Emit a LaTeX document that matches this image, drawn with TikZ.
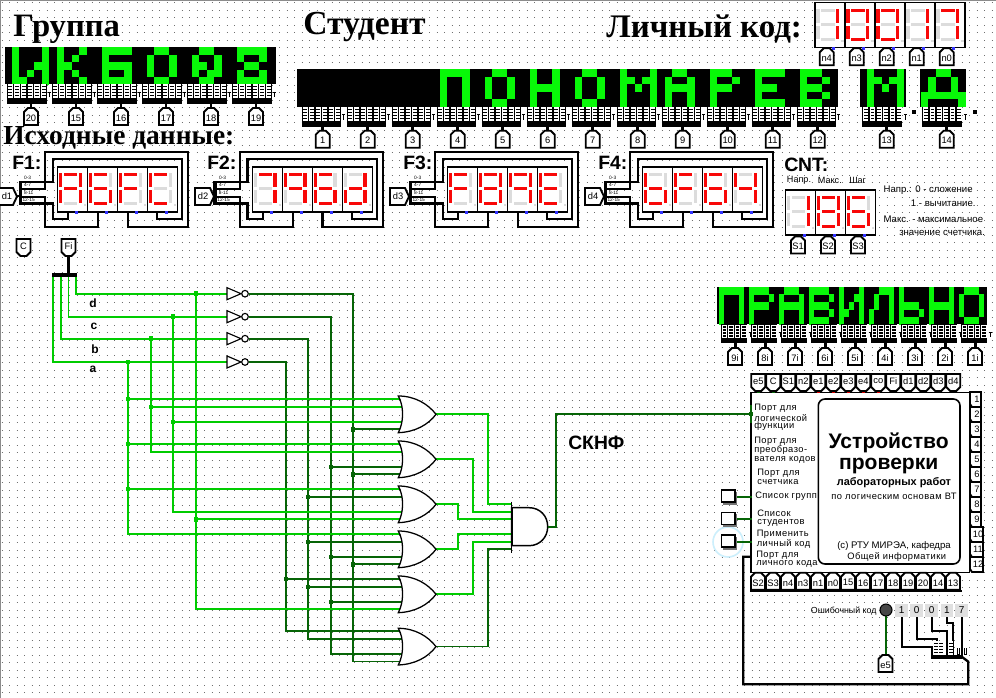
\documentclass[tikz,border=0pt]{standalone}
\usepackage{fontspec}
\setmainfont{Liberation Serif}
\setsansfont{Liberation Sans}
\definecolor{segon}{HTML}{F80808}
\definecolor{segoff}{HTML}{DCDCDC}
\definecolor{ledon}{HTML}{08F808}
\definecolor{lg}{HTML}{00CC00}
\definecolor{dg}{HTML}{066406}
\definecolor{griddot}{HTML}{707070}
\newcommand\fpx[1]{\fontsize{#1}{#1}\selectfont}
\newcommand\lsp{\addfontfeature{LetterSpace=5}}
\tikzset{
  x=0.75pt,y=-0.75pt,
  fw/.style={line width=1.75pt,line join=miter},
  pinbox/.style={draw=black,fill=white,line width=1.4pt},
  pinlab/.style={inner sep=0pt,font=\sffamily\fpx{7}},
  big/.style={inner sep=0pt,anchor=west,font=\rmfamily\bfseries},
  lbl/.style={inner sep=0pt,anchor=west,font=\sffamily\fpx{7.2}},
  mlbl/.style={inner sep=0pt,anchor=west,align=left,font=\sffamily\fontsize{7}{6.3}\selectfont\lsp},
  clbl/.style={inner sep=0pt,font=\sffamily\fpx{7.2}},
  fn/.style={inner sep=0pt,anchor=west,font=\sffamily\bfseries\fpx{14.5}},
  lw/.style={draw=lg,line width=1.25pt},
  dw/.style={draw=dg,line width=1.25pt},
}
% seven-segment digit
\newcommand\seg[5]{\ifnum#1=1 \def\sc{segon}\else\def\sc{segoff}\fi\fill[\sc] ({#2},{#3}) rectangle ({#4},{#5});}
\newcommand\sevenseg[9]{%
  \def\sx{#1}\def\sy{#2}%
  \fill[white] ({\sx},{\sy}) rectangle ({\sx+30},{\sy+45});
  \seg{#3}{\sx+6}{\sy+6}{\sx+19.5}{\sy+9}
  \seg{#4}{\sx+20.8}{\sy+6}{\sx+24.1}{\sy+20}
  \seg{#5}{\sx+20.8}{\sy+23}{\sx+24.1}{\sy+36}
  \seg{#6}{\sx+6}{\sy+35}{\sx+19.5}{\sy+38}
  \seg{#7}{\sx+1.4}{\sy+23}{\sx+4.7}{\sy+36}
  \seg{#8}{\sx+1.4}{\sy+6}{\sx+4.7}{\sy+20}
  \seg{#9}{\sx+6}{\sy+20}{\sx+19.5}{\sy+23}
  \seg{0}{\sx+26}{\sy+37}{\sx+28.5}{\sy+39.5}
  \draw[line width=1.1pt] ({\sx},{\sy}) rectangle ({\sx+30},{\sy+45});
  \fill[blue!80!white] ({\sx+17},{\sy+44}) rectangle ({\sx+20},{\sy+47});
}
% function block frame
\newcommand\fnframe[2]{%
  \coordinate (#1-t1) at ({#2-35.7},181.7);
  \coordinate (#1-t2) at ({#2-35.7},188.7);
  \coordinate (#1-t3) at ({#2-35.7},196.7);
  \coordinate (#1-t4) at ({#2-35.7},203.5);
  \draw[fw] (#1-t1) -- ({#2-5},181.7) -- ({#2-5},159.3) -- ({#2+124.3},159.3) -- ({#2+124.3},219.3) -- ({#2+99.5},219.3) -- ({#2+99.5},212);
  \draw[fw] (#1-t2) -- ({#2-12.5},188.7) -- ({#2-12.5},152.3) -- ({#2+130.3},152.3) -- ({#2+130.3},226.7) -- ({#2+70},226.7) -- ({#2+70},212);
  \draw[fw] (#1-t3) -- ({#2-12.5},196.7) -- ({#2-12.5},226.7) -- ({#2+40.5},226.7) -- ({#2+40.5},212);
  \draw[fw] (#1-t4) -- ({#2-5},203.5) -- ({#2-5},219.3) -- ({#2+10.6},219.3) -- ({#2+10.6},212);
  \fill ({#2-39.2},181) rectangle ({#2-35.7},205);
  \fill[white] ({#2-35},175.5) rectangle ({#2-22},180.6);
  \node[inner sep=0pt,font=\sffamily\fpx{3.6}] (#1-l1) at ({#2-30},178.2) {0-3};
  \node[inner sep=0pt,font=\sffamily\fpx{3.6},fill=white] (#1-l2) at ({#2-30},185.2) {4-7};
  \node[inner sep=0pt,font=\sffamily\fpx{3.6},fill=white] (#1-l3) at ({#2-29},192.7) {8-11};
  \node[inner sep=0pt,font=\sffamily\fpx{3.6},fill=white] (#1-l4) at ({#2-29},200.2) {12-15};
}
\newcommand\pinR[4]{%
  \draw[pinbox] ({#2},188) -- ({#2+15},188) -- ({#2+19},196.5) -- ({#2+15},205) -- ({#2},205) -- cycle;
  \fill ({#2+19},195.5) rectangle ({#2+21},197.5);
  \node[pinlab] (#1) at ({#2+8},196.5) {#4};
}
\newcommand\pinU[4]{%
  \draw[pinbox] ({#2-7},{#3+17}) -- ({#2-7},{#3+4}) -- ({#2-3},{#3}) -- ({#2+3},{#3}) -- ({#2+7},{#3+4}) -- ({#2+7},{#3+17}) -- cycle;
  \node[pinlab] (#1) at ({#2},{#3+10}) {#4};
}
\newcommand\pinD[4]{%
  \draw[pinbox] ({#2-7},{#3}) -- ({#2-7},{#3+13}) -- ({#2-3},{#3+17}) -- ({#2+3},{#3+17}) -- ({#2+7},{#3+13}) -- ({#2+7},{#3}) -- cycle;
  \node[pinlab] (#1) at ({#2},{#3+7.5}) {#4};
}
\newcommand\pinL[4]{%
  \draw[pinbox] ({#2},{#3}) -- ({#2+#4-2},{#3}) -- ({#2+#4-2},{#3+15}) -- ({#2+2},{#3+15}) -- ({#2},{#3+12}) -- cycle;
}
% bus block: x, top, width, columns, total height
\newcommand\busblk[5]{%
  \fill ({#1},{#2}) rectangle ({#1+#3},{#2+#5});
  \pgfmathsetmacro\cw{#3/#4}
  \foreach \k in {1,...,#4}{%
    \pgfmathsetmacro\bx{#1+(\k-1)*\cw+0.9}
    \fill[white] ({\bx},{#2+.5}) rectangle ({\bx+\cw-1.4},{#2+#5-5.5});
    \foreach \j in {2,5,8,11}{%
      \fill ({\bx+0.7},{#2+\j}) rectangle ({\bx+\cw-2.1},{#2+\j+1.2});
    }
  }
  \draw[line width=.6pt] ({#1+#3+1.5},{#2+8}) -- ({#1+#3+4.5},{#2+8}) ({#1+#3+3},{#2+8}) -- ({#1+#3+3},{#2+13});
}
% LED matrix
\newcount\lcol
\def\ledrow#1{\ifx#1;\let\lnext\relax\else\ifx#1X\fill[ledon] ({\lx+\the\lcol*\lw},{\ly+\ri*\lh}) rectangle ++({\lw+.2},{\lh+.2});\fi\advance\lcol by 1 \let\lnext\ledrow\fi\lnext}
\newcommand\ledglyph[5]{%
  \def\lx{#1}\def\ly{#2}\def\lw{#3}\def\lh{#4}%
  \foreach \rw [count=\ri from 0] in #5 {\lcol=0 \expandafter\ledrow\rw;}
}
\def\gI{XoooX,XoooX,XooXX,XoXoX,XXooX}
\def\gK{oXooX,oXoXo,oXXoo,oXoXo,oXooX}
\def\gB{oXXXX,oXooo,oXXXX,oXooX,oXXXX}
\def\gO{ooXXo,oXooX,oXooX,oXooX,ooXXo}
\def\gQ{ooXXo,oXooX,oXXoX,oXoXX,ooXXo}
\def\gT{oXXXX,oXooX,ooXXo,oXooX,oXXXX}
\def\gP{XXXX,XooX,XooX,XooX,XooX}
\def\gS{oXXo,XooX,XooX,XooX,oXXo}
\def\gN{XooX,XooX,XXXX,XooX,XooX}
\def\gM{XoooX,XXoXX,XoXoX,XoooX,XoooX}
\def\gA{oXXo,XooX,XXXX,XooX,XooX}
\def\gR{XXXo,XooX,XXXo,Xooo,Xooo}
\def\gE{XXXX,Xooo,XXXo,Xooo,XXXX}
\def\gV{XXXo,XooX,XXXo,XooX,XXXo}
\def\gD{ooXXoo,oXooXo,oXooXo,XXXXXX,XooooX}
\def\hP{XXXXX,XoooX,XoooX,XoooX,XoooX}
\def\hR{XXXXo,XoooX,XXXXo,Xoooo,Xoooo}
\def\hA{oXXXo,XoooX,XXXXX,XoooX,XoooX}
\def\hV{XXXXo,XoooX,XXXXo,XoooX,XXXXo}
\def\hI{XoooX,XooXX,XoXoX,XXooX,XoooX}
\def\hL{ooXXX,oXooX,oXooX,XoooX,XoooX}
\def\hS{Xoooo,Xoooo,XXXXo,XoooX,XXXXo}
\def\hN{XoooX,XoooX,XXXXX,XoooX,XoooX}
\def\hO{oXXXo,XoooX,XoooX,XoooX,oXXXo}
% OR gate
\newcommand\orgate[2]{%
  \coordinate (#1-1) at (402,{#2+3});
  \coordinate (#1-2) at (402,{#2+11});
  \coordinate (#1-3) at (402,{#2+26});
  \coordinate (#1-4) at (402,{#2+33.3});
  \coordinate (#1-o) at (436,{#2+18.3});
}
\newcommand\orshape[2]{%
  \draw[fill=white,line width=.95pt] (398.3,{#2}) .. controls (415,{#2}) and (428,{#2+8}) .. (436,{#2+18.3}) .. controls (428,{#2+29}) and (415,{#2+36}) .. (398.3,{#2+36.7}) .. controls (404,{#2+26}) and (404,{#2+10}) .. cycle;
}
\newcommand\jd[2]{\fill[#1] ($#2$) ++(-2.4,-2.4) rectangle ++(4.8,4.8);}
\newcommand\inv[3]{%
  \draw[fill=white,line width=.85pt] (227,{#3-6}) -- (241,{#3}) -- (227,{#3+6}) -- cycle;
  \draw[fill=white,line width=.85pt] (245,{#3}) circle[radius=3.3];
}
\usetikzlibrary{calc}
\begin{document}
\begin{tikzpicture}
\useasboundingbox (0,0) rectangle (996,698);
\fill[white] (0,0) rectangle (996,698);
% dotted grid
\foreach \gy in {2.5,10,...,698}{\draw[griddot,line width=.675pt,dash pattern=on .675pt off 4.95pt] (1.5,\gy) -- (996,\gy);}
\fill[black!45] (0,0) rectangle (996,1.4);
\fill[black!45] (0,0) rectangle (1.4,698);
% headings
\node[big,font=\rmfamily\bfseries\fpx{24.5}] (hGroup) at (13,29) {Группа};
\node[big,font=\rmfamily\bfseries\fpx{25.2}] (hStud) at (303,27) {Студент};
\node[big,font=\rmfamily\bfseries\fpx{24.7}] (hCode) at (606,29) {Личный код:};
\node[big,font=\rmfamily\bfseries\fpx{20.6}] (hSrc) at (3,138) {Исходные данные:};
% group display
\fill (5,47.3) rectangle (276,84.5);
\ledglyph{11.7}{47.3}{7.5}{7.44}{\gI}
\foreach \g [count=\i from 1] in {\gK,\gB,\gO,\gQ,\gT}{\pgfmathsetmacro\gxx{4.2+45*\i}\expandafter\let\expandafter\gcur\g\ledglyph{\gxx}{47.3}{7.5}{7.44}{\gcur}}
\foreach \l [count=\i from 0] in {20,15,16,17,18,19}{%
  \pgfmathsetmacro\bb{6.7+45*\i}
  \busblk{\bb}{84}{40}{6}{20}
  \fill ({\bb+22.8},104) rectangle ({\bb+25.6},109);
  \pinU{g\l}{31+45*\i}{108}{\l}
}
% student display
\fill (297,69.3) rectangle (838,106.7);
\fill (860,69.3) rectangle (906,106.7);
\fill (920,69.3) rectangle (966,106.7);
\foreach \g [count=\i from 3] in {\gP,\gS,\gN,\gS,\gM,\gA,\gR,\gE,\gV}{\pgfmathsetmacro\gxx{304.5+45*\i}\expandafter\let\expandafter\gcur\g\ledglyph{\gxx}{69.3}{7.5}{7.48}{\gcur}}
\ledglyph{866.7}{69.3}{7.5}{7.48}{\gM}
\ledglyph{920.5}{69.3}{7.5}{7.48}{\gD}
\fill (912,110) rectangle (916,114);
\fill (973,110) rectangle (977,114);
\foreach \l [count=\i from 0] in {1,2,3,4,5,6,7,8,9,10,11,12}{%
  \pgfmathsetmacro\bb{301.7+45*\i}
  \busblk{\bb}{106.7}{39}{6}{20.3}
  \fill ({\bb+19.5},127) rectangle ({\bb+22.3},132);
  \pinU{s\l}{322.7+45*\i}{130.7}{\l}
}
\busblk{862.3}{106.7}{40}{6}{20.3}
\fill (885.3,127) rectangle (888.1,132);
\pinU{s13}{886.7}{130.7}{13}
\busblk{922.3}{106.7}{40}{6}{20.3}
\fill (945.3,127) rectangle (948.1,132);
\pinU{s14}{946.7}{130.7}{14}
% personal code
\sevenseg{815}{2.7}0110000
\sevenseg{845}{2.7}1111110
\sevenseg{875}{2.7}1111110
\sevenseg{905}{2.7}0110000
\sevenseg{935}{2.7}1110000
\foreach \l [count=\i from 0] in {n4,n3,n2,n1,n0}{\pinU{c\l}{826.7+30*\i}{48.3}{\l}}
% function displays
\node[fn] (tF1) at (12,163) {F1:};
\node[fn] (tF2) at (207,163) {F2:};
\node[fn] (tF3) at (403,163) {F3:};
\node[fn] (tF4) at (598,163) {F4:};
\node[fn] (tCNT) at (784,165) {CNT:};
\fnframe{f1}{57.7}
\sevenseg{57.7}{167}1110111
\sevenseg{87.7}{167}1011111
\sevenseg{117.7}{167}1000111
\sevenseg{147.7}{167}1001110
\pinR{d1}{-2}{0}{}
\node[pinlab] (d1t) at (7,196.5) {d1};
\fnframe{f2}{252.6}
\sevenseg{252.6}{167}1110000
\sevenseg{282.6}{167}1110011
\sevenseg{312.6}{167}1011111
\sevenseg{342.6}{167}0111101
\pinR{d2a}{195}{0}{d2}
\fnframe{f3}{447.7}
\sevenseg{447.7}{167}1000111
\sevenseg{477.7}{167}1111111
\sevenseg{507.7}{167}1110011
\sevenseg{537.7}{167}1001111
\pinR{d3a}{390}{0}{d3}
\fnframe{f4}{642.7}
\sevenseg{642.7}{167}0011111
\sevenseg{672.7}{167}1000111
\sevenseg{702.7}{167}1011111
\sevenseg{732.7}{167}0110011
\pinR{d4a}{585}{0}{d4}
% counter
\sevenseg{785.7}{190}0110000
\sevenseg{815.7}{190}1111111
\sevenseg{845.7}{190}1011111
\pinU{pS1}{798}{236.5}{S1}
\pinU{pS2}{828}{236.5}{S2}
\pinU{pS3}{858}{236.5}{S3}
\node[lbl,font=\sffamily\fpx{6.8}] (n1) at (786.7,180.7) {Напр.};
\node[lbl,font=\sffamily\fpx{6.8}] (n2) at (817.7,180.7) {Макс.};
\node[lbl,font=\sffamily\fpx{6.8}] (n3) at (849,180.7) {Шаг};
\node[lbl] (n4) at (883.3,190) {Напр.: 0 - сложение};
\node[lbl] (n5) at (910.7,203) {1 - вычитание.};
\node[lbl] (n6) at (883.3,219) {Макс. - максимальное};
\node[lbl] (n7) at (899,233) {значение счетчика.};
% input pins
\pinD{pC}{23.5}{239}{C}
\draw[line width=1.6pt] (68.5,256) -- (68.5,273);
\pinD{pFi}{68.5}{239}{Fi}
\fill (52,273) rectangle (77,277);
% OR gate coordinates
\orgate{g1}{396}
\orgate{g2}{441}
\orgate{g3}{486}
\orgate{g4}{531}
\orgate{g5}{576}
\orgate{g6}{628.3}
% true signals
\coordinate (sa) at (128,362);
\coordinate (sb) at (151,338.7);
\coordinate (sc) at (173,316.7);
\coordinate (sd) at (196,293.7);
\coordinate (na) at (286,362);
\coordinate (nb) at (308,338.7);
\coordinate (nc) at (331,316.7);
\coordinate (nd) at (353,293.7);
\draw[lw] (53,277) -- (53,362) -- (227,362);
\draw[lw] (61,277) -- (61,338.7) -- (227,338.7);
\draw[lw] (68.5,277) -- (68.5,316.7) -- (227,316.7);
\draw[lw] (76,277) -- (76,293.7) -- (227,293.7);
\draw[dw] (249,362) -- (na) -- (na |- g6-1) -- (g6-1);
\draw[dw] (249,338.7) -- (nb) -- (nb |- g6-2) -- (g6-2);
\draw[dw] (249,316.7) -- (nc) -- (nc |- g6-3) -- (g6-3);
\draw[dw] (249,293.7) -- (nd) -- (nd |- g6-4) -- (g6-4);
\draw[lw] (sa) -- (sa |- g4-1) -- (g4-1);
\draw[lw] (sb) -- (sb |- g2-2) -- (g2-2);
\draw[lw] (sc) -- (sc |- g3-3) -- (g3-3);
\draw[lw] (sd) -- (sd |- g5-4) -- (g5-4);
\draw[lw] (sa |- g1-1) -- (g1-1);
\draw[lw] (sa |- g2-1) -- (g2-1);
\draw[lw] (sa |- g3-1) -- (g3-1);
\draw[lw] (sb |- g1-2) -- (g1-2);
\draw[lw] (sc |- g1-3) -- (g1-3);
\draw[lw] (sd |- g3-4) -- (g3-4);
\draw[dw] (nd |- g1-4) -- (g1-4);
\draw[dw] (nc |- g2-3) -- (g2-3);
\draw[dw] (nd |- g2-4) -- (g2-4);
\draw[dw] (nb |- g3-2) -- (g3-2);
\draw[dw] (nb |- g4-2) -- (g4-2);
\draw[dw] (nc |- g4-3) -- (g4-3);
\draw[dw] (nd |- g4-4) -- (g4-4);
\draw[dw] (na |- g5-1) -- (g5-1);
\draw[dw] (nb |- g5-2) -- (g5-2);
\draw[dw] (nc |- g5-3) -- (g5-3);
% junctions
\jd{lg}{(sa)} \jd{lg}{(sb)} \jd{lg}{(sc)} \jd{lg}{(sd)}
\jd{lg}{(sa |- g1-1)} \jd{lg}{(sa |- g2-1)} \jd{lg}{(sa |- g3-1)}
\jd{lg}{(sb |- g1-2)} \jd{lg}{(sc |- g1-3)} \jd{lg}{(sd |- g3-4)}
\jd{dg}{(nd |- g1-4)} \jd{dg}{(nc |- g2-3)} \jd{dg}{(nd |- g2-4)}
\jd{dg}{(nb |- g3-2)} \jd{dg}{(nb |- g4-2)} \jd{dg}{(nc |- g4-3)} \jd{dg}{(nd |- g4-4)}
\jd{dg}{(na |- g5-1)} \jd{dg}{(nb |- g5-2)} \jd{dg}{(nc |- g5-3)}
% inverters
\inv{i4}{d}{293.7}
\inv{i3}{c}{316.7}
\inv{i2}{b}{338.7}
\inv{i1}{a}{362}
\node[inner sep=0pt,font=\sffamily\bfseries\fpx{9}] (ld) at (93,303) {d};
\node[inner sep=0pt,font=\sffamily\bfseries\fpx{9}] (lc) at (94,326) {c};
\node[inner sep=0pt,font=\sffamily\bfseries\fpx{9}] (lb) at (95,349) {b};
\node[inner sep=0pt,font=\sffamily\bfseries\fpx{9}] (la) at (93,369) {a};
% outputs
\coordinate (a1) at (511.7,504.3);
\coordinate (a2) at (511.7,512);
\coordinate (a3) at (511.7,519);
\coordinate (a4) at (511.7,534);
\coordinate (a5) at (511.7,542);
\coordinate (a6) at (511.7,549);
\draw[lw] (g1-o) -| (488.3,504.3) -- (a1);
\draw[lw] (g2-o) -| (473.3,512) -- (a2);
\draw[lw] (g3-o) -| (458.3,519) -- (a3);
\draw[lw] (g4-o) -| (458.3,534) -- (a4);
\draw[lw] (g5-o) -| (473.3,542) -- (a5);
\draw[dw] (g6-o) -| (488.3,549) -- (a6);
\orshape{g1s}{396}
\orshape{g2s}{441}
\orshape{g3s}{486}
\orshape{g4s}{531}
\orshape{g5s}{576}
\orshape{g6s}{628.3}
% AND gate
\draw[fill=white,line width=1.1pt] (511.7,507.7) -- (529,507.7) .. controls (540,507.7) and (547.7,516) .. (547.7,526.7) .. controls (547.7,537) and (540,545.7) .. (529,545.7) -- (511.7,545.7) -- cycle;
\draw[line width=.6pt] (511.7,501.7) -- (511.7,553.3);
\draw[line width=1.5pt] (511.7,507.7) -- (511.7,545.7);
\coordinate (aout) at (547.7,526.7);
\node[inner sep=0pt,anchor=west,font=\sffamily\bfseries\fpx{14.5}] (tsk) at (568,443) {СКНФ};
% right display
\fill (717,287) rectangle (987,324.5);
\foreach \g [count=\i from 0] in {\hP,\hR,\hA,\hV,\hI,\hL,\hS,\hN,\hO}{\pgfmathsetmacro\gxx{718.5+30*\i}\expandafter\let\expandafter\gcur\g\ledglyph{\gxx}{287}{5.1}{7.48}{\gcur}}
\foreach \l [count=\i from 0] in {9i,8i,7i,6i,5i,4i,3i,2i,1i}{%
  \pgfmathsetmacro\bb{721+30*\i}
  \busblk{\bb}{324.5}{26}{4}{19}
  \fill ({\bb+13},343) rectangle ({\bb+15.8},349);
  \pinU{r\l}{735+30*\i}{348}{\l}
}
% device
\draw[fill=white,line width=.9pt] (751,392.3) rectangle (969.3,572.3);
\draw[line width=1.2pt,rounded corners=5pt] (818.3,399) rectangle (960,564);
\foreach \l [count=\i from 0] in {1,2,3,4,5,6,7,8,9}{\pgfmathsetmacro\py{392+15*\i}\pinL{p\l}{970}{\py}{13}{}\node[pinlab] (pr\l) at (977,{\py+7.5}) {\l};}
\foreach \l [count=\i from 9] in {10,11,12}{\pgfmathsetmacro\py{392+15*\i}\pinL{p\l}{970}{\py}{15}{}\node[pinlab] (pr\l) at (978,{\py+7.5}) {\l};}
\foreach \l/\c [count=\i from 0] in {e5/dg,C/dg,S1/black,n2/black,e1/red!85!black,e2/red!85!black,e3/red!85!black,e4/red!85!black,co/red!85!black,Fi/black,d1/black,d2/black,d3/black,d4/black}{%
  \pgfmathsetmacro\px{758.3+15*\i}
  \fill[\c] ({\px-1.3},390.5) rectangle ({\px+1.3},393.5);
  \pinD{t\l}{\px}{374}{\l}
}
\foreach \l [count=\i from 0] in {S2,S3,n4,n3,n1,n0,15,16,17,18,19,20,14,13}{%
  \pinU{b\l}{758+15*\i}{572.8}{\l}
}
\draw[line width=1.4pt] (750.2,590.6) -- (961.5,590.6);
\node[mlbl,font=\sffamily\fontsize{7}{5.9}\selectfont\lsp] (d1a) at (754,417.7) {Порт для\\логической\\функции};
\node[mlbl,font=\sffamily\fontsize{7}{6.75}\selectfont\lsp] (d2a1) at (754,450) {Порт для\\преобразо-\\вателя кодов};
\node[mlbl] (d3a1) at (757,477) {Порт для\\счетчика};
\node[lbl,font=\sffamily\fpx{7}\lsp] (d4a1) at (755,496.7) {Список групп};
\node[mlbl] (d5a) at (757,518.5) {Список\\студентов};
\node[mlbl] (d6a) at (756.5,539.5) {Применить\\личный код};
\node[mlbl] (d7a) at (756,559) {Порт для\\личного кода};
\node[inner sep=0pt,align=center,font=\sffamily\bfseries\fontsize{15.8}{15.8}\selectfont] (dT1) at (888.7,453.5) {Устройство\\проверки};
\node[inner sep=0pt,font=\sffamily\bfseries\fpx{8.2}] (dT3) at (894,483) {лабораторных работ};
\node[clbl,font=\sffamily\fpx{7}\lsp] (dT4) at (894,496.7) {по логическим основам ВТ};
\node[clbl,font=\sffamily\fpx{7.2}] (dT5) at (894,545.7) {(с) РТУ МИРЭА, кафедра};
\node[clbl,font=\sffamily\fpx{7}\lsp] (dT6) at (896.7,556.7) {Общей информатики};
% ports and wires of the device
\coordinate (pF) at (751,413.7);
\draw[dw] (aout) -- (556,526.7) -- (556,413.7) -- (pF);
\draw[dg,line width=1.4pt] (751,405) -- (751,423);
\fill[dg] (749,411.7) rectangle (753,415.7);
\draw[line width=1.4pt] (751,444) -- (751,453);
\fill (749.8,473.5) rectangle (752.2,476);
\coordinate (pL) at (751,556.7);
\draw[line width=1.75pt] (pL) -- (743.3,556.7) -- (743.3,684.3) -- (968.3,684.3) -- (968.3,661.7) -- (961.7,656.7);
% buttons
\draw[cyan!20,line width=1.2pt,fill=white] (728,542) circle[radius=15];
\foreach \n/\yy in {b1/490,b2/512.3,b3/535}{%
  \draw[dw] (735,{\yy+7}) -- (752,{\yy+7});
  \fill[black!55] (723,{\yy+2}) rectangle (737.3,{\yy+14.5});
  \draw[fill=white,line width=.8pt] (721.7,{\yy}) rectangle (735,{\yy+12});
}
% error code
\node[inner sep=0pt,anchor=east,font=\sffamily\fpx{6.6}] (ec) at (876.7,611) {Ошибочный код};
\coordinate (led) at (886,610);
\draw[dw,line width=1.4pt] (led) -- (886,655);
\draw[fill=black!72,line width=.8pt] (led) circle[radius=6];
\pinU{pe5}{885.5}{655}{e5}
\foreach \v/\xx/\n in {1/901.7/a,0/916.7/b,0/931.7/c,1/947/d,7/961.7/e}{%
  \node[fill=black!12,inner sep=0pt,minimum width=9.5pt,minimum height=9.5pt,font=\sffamily\fpx{7.5}] (ecd\n) at (\xx,610.5) {\v};
}
\draw[line width=1.5pt] (ecda.south) -- (901.7,647.3) -- (931.7,647.3) -- (931.7,656);
\draw[line width=1.5pt] (ecdb.south) -- (916.7,639) -- (936.7,639) -- (936.7,656);
\draw[line width=1.5pt] (ecdc.south) -- (931.7,631) -- (946.7,631) -- (946.7,656);
\draw[line width=1.5pt] (ecdd.south) -- (947,623.3) -- (953,623.3) -- (953,656);
\draw[line width=1.5pt] (ecde.south) -- (961.7,656);
\fill (930.7,655) rectangle (962,658.5);
\foreach \xx in {933.5,938.5,949}{%
  \fill[white] (\xx,641) rectangle ({\xx+4},654.5);
  \foreach \yy in {643,646,649,652}{\fill (\xx,\yy) rectangle ({\xx+4},{\yy+.9});}
}
\foreach \xx in {957,964}{\draw[line width=.5pt] (\xx,648) -- (\xx,654) -- ({\xx+2},654) -- ({\xx+2},648);}
\end{tikzpicture}
\end{document}
